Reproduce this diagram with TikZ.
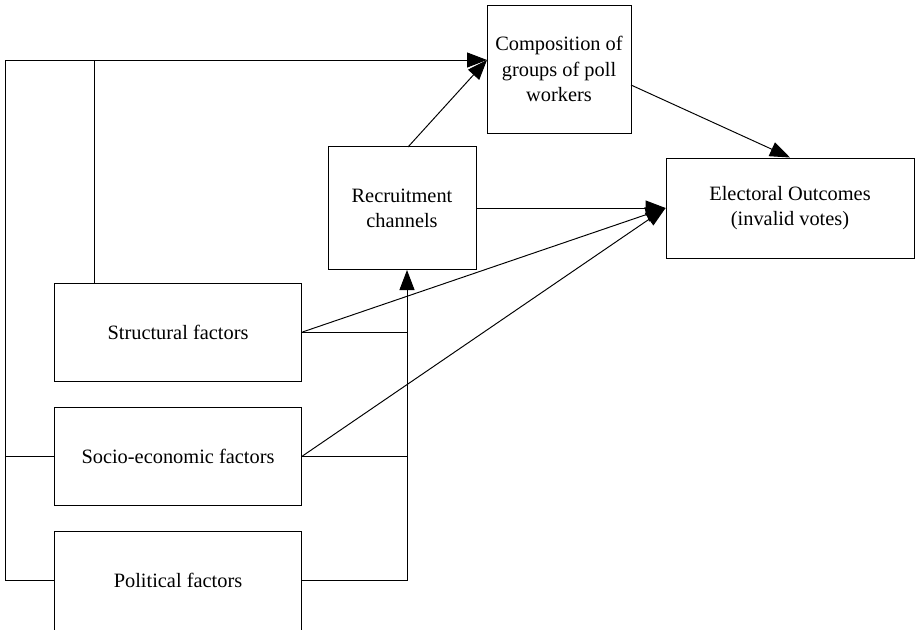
\documentclass[tikz,border=0pt]{standalone}
\usepackage{fontspec}
\setmainfont{Liberation Serif}
\usetikzlibrary{arrows.meta}

\begin{document}
\begin{tikzpicture}[x=0.02cm, y=-0.02cm, line width=0.55pt, font=\fontsize{11.6}{14.4}\selectfont,
  box/.style={draw, align=center, inner sep=2pt},
  fac/.style={box, minimum width=4.96cm, minimum height=1.96cm},
  arr/.style={-{Triangle[length=0.4cm, width=0.3cm]}}]
	\useasboundingbox (0,0) rectangle (915,629);
	% boxes
	\node (comp) [box, minimum width=2.88cm, minimum height=2.56cm] at (559,69) {Composition of\\groups of poll\\workers};
	\node (recr) [box, minimum width=2.96cm, minimum height=2.46cm] at (402,208) {Recruitment\\channels};
	\node (elec) [box, minimum width=4.96cm, minimum height=2cm] at (790,208) {Electoral Outcomes\\(invalid votes)};
	\node (struct) [fac] at (178,332) {Structural factors};
	\node (socio) [fac] at (178,456) {Socio-economic factors};
	\node (polit) [fac, minimum height=2.2cm, text depth=0.24cm] at (178,586) {Political factors};
	% junctions
	\coordinate (lt) at (5,60);
	\coordinate (top) at (94,60);
	\coordinate (compin) at (487,60);
	\coordinate (cout) at (631,85);
	\coordinate (rb) at (407,270);
	\coordinate (rt) at (408,147);
	% left feedback
	\draw[arr] (polit.west |- 0,580) -- (lt |- 0,580) -- (lt) -- (compin);
	\draw (socio.west) -- (socio.west -| lt);
	\draw (struct.north -| top) -- (top);
	% into recruitment
	\draw[arr] (polit.east |- 0,580) -- (rb |- 0,580) -- (rb);
	\draw (struct.east) -- (struct.east -| rb);
	\draw (socio.east) -- (socio.east -| rb);
	% into outcomes
	\draw[arr] (struct.east) -- (elec.west);
	\draw[arr] (socio.east) -- (elec.west);
	\draw[arr] (recr.east) -- (elec.west);
	\draw[arr] (rt) -- (compin);
	\draw[arr] (cout) -- (elec.north);
\end{tikzpicture}
\end{document}
